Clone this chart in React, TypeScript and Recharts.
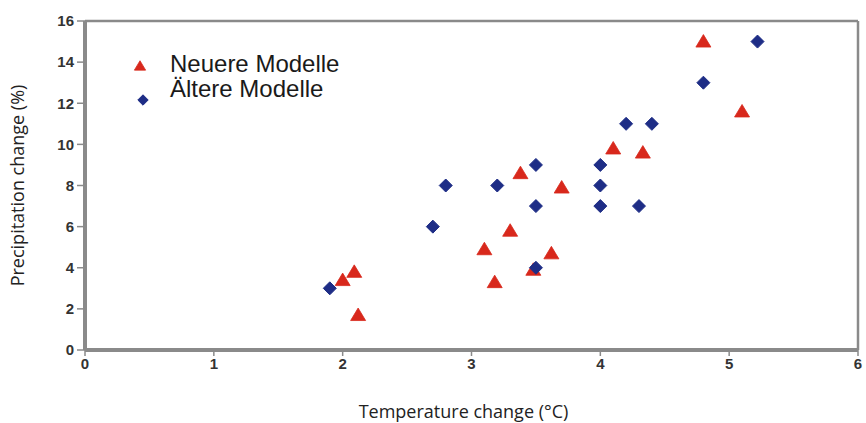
import React from 'react';
import { ScatterChart, Scatter, XAxis, YAxis, ZAxis, Legend, ReferenceLine, Label } from 'recharts';

const xTicks = [0, 1, 2, 3, 4, 5, 6];
const yTicks = [0, 2, 4, 6, 8, 10, 12, 14, 16];

const neuereX = [4.8, 5.1, 4.1, 4.33, 3.38, 3.7, 3.3, 3.1, 3.62, 3.48, 3.18, 2.09, 2.0, 2.12];
const neuereY = [15.0, 11.6, 9.8, 9.6, 8.6, 7.9, 5.8, 4.9, 4.7, 3.9, 3.3, 3.8, 3.4, 1.7];

const aeltereX = [5.22, 4.8, 4.2, 4.4, 4.0, 4.0, 4.0, 4.3, 3.5, 3.5, 3.2, 2.8, 2.7, 3.5, 1.9];
const aeltereY = [15.0, 13.0, 11.0, 11.0, 9.0, 8.0, 7.0, 7.0, 9.0, 7.0, 8.0, 8.0, 6.0, 4.0, 3.0];

const neuere = neuereX.map((x, i) => ({ x, y: neuereY[i] }));
const aeltere = aeltereX.map((x, i) => ({ x, y: aeltereY[i] }));

const RED = '#d8281c';
const BLUE = '#1e2d86';
const AXIS = '#8a8a8a';
const tickStyle = { fontFamily: 'Liberation Sans, Arial, sans-serif', fontSize: 15, fontWeight: 700, fill: '#333' };
const labelStyle = { fontFamily: 'Open Sans, sans-serif', fontSize: 18, fill: '#222' };

const tri = (cx: number, cy: number, fill: string, s = 1) => (
  <path
    d={`M${cx},${cy - 7 * s}L${cx + 7.5 * s},${cy + 5.5 * s}L${cx - 7.5 * s},${cy + 5.5 * s}Z`}
    fill={fill}
    stroke={fill}
    strokeWidth={0.8}
    strokeLinejoin="round"
  />
);
const dia = (cx: number, cy: number, fill: string, s = 1) => (
  <path
    d={`M${cx},${cy - 6.5 * s}L${cx + 6.5 * s},${cy}L${cx},${cy + 6.5 * s}L${cx - 6.5 * s},${cy}Z`}
    fill={fill}
    stroke={fill}
    strokeWidth={1}
    strokeLinejoin="round"
  />
);

const TriShape = (props: any) => tri(props.cx, props.cy, RED);
const DiaShape = (props: any) => dia(props.cx, props.cy, BLUE);

const legendItems = [
  { name: 'Neuere Modelle', kind: 'tri', color: RED, sx: 20, sy: 15 },
  { name: 'Ältere Modelle', kind: 'dia', color: BLUE, sx: 23, sy: 49 },
];

const LegendContent = () => (
  <div style={{ position: 'relative', width: 320, height: 60, fontFamily: 'Liberation Sans, Arial, sans-serif', fontSize: 24, color: '#1a1a1a' }}>
    <svg width={40} height={60} style={{ position: 'absolute', left: 0, top: 0 }}>
      {legendItems.map((it) =>
        it.kind === 'tri' ? <g key={it.name}>{tri(it.sx, it.sy, it.color, 0.75)}</g> : <g key={it.name}>{dia(it.sx, it.sy, it.color, 0.8)}</g>
      )}
    </svg>
    {legendItems.map((it) => (
      <div key={it.name} style={{ marginLeft: 50, lineHeight: '25px', height: 25, whiteSpace: 'nowrap' }}>
        {it.name}
      </div>
    ))}
  </div>
);

export default function App() {
  return (
    <div style={{ position: 'absolute', left: 0, top: 0, width: 866, height: 423, background: '#fff' }}>
      <ScatterChart width={866} height={423} margin={{ top: 21, right: 8, bottom: 0, left: 0 }}>
        <XAxis
          type="number"
          dataKey="x"
          domain={[0, 6]}
          ticks={xTicks}
          height={73}
          tick={tickStyle}
          tickSize={6}
          tickMargin={2}
          axisLine={{ stroke: AXIS, strokeWidth: 4 }}
          tickLine={{ stroke: AXIS, strokeWidth: 1.5 }}
        >
          <Label value="Temperature change (°C)" position="insideBottom" offset={5} dx={-8} style={labelStyle} />
        </XAxis>
        <YAxis
          type="number"
          dataKey="y"
          domain={[0, 16]}
          ticks={yTicks}
          width={85}
          tick={tickStyle}
          tickSize={8}
          tickMargin={3}
          axisLine={{ stroke: AXIS, strokeWidth: 4 }}
          tickLine={{ stroke: AXIS, strokeWidth: 1.5 }}
        >
          <Label
            value="Precipitation change (%)"
            angle={-90}
            position="insideLeft"
            offset={18}
            style={{ ...labelStyle, textAnchor: 'middle' }}
          />
        </YAxis>
        <ZAxis range={[90, 90]} />
        <ReferenceLine y={16} stroke={AXIS} strokeWidth={2.5} />
        <ReferenceLine x={6} stroke={AXIS} strokeWidth={2.5} />
        <Legend
          layout="vertical"
          verticalAlign="middle"
          align="center"
          content={<LegendContent />}
          wrapperStyle={{ position: 'absolute', left: 120, top: 51, width: 320 }}
        />
        <Scatter name="Neuere Modelle" data={neuere} shape={<TriShape />} isAnimationActive={false} />
        <Scatter name="Ältere Modelle" data={aeltere} shape={<DiaShape />} isAnimationActive={false} />
      </ScatterChart>
    </div>
  );
}
